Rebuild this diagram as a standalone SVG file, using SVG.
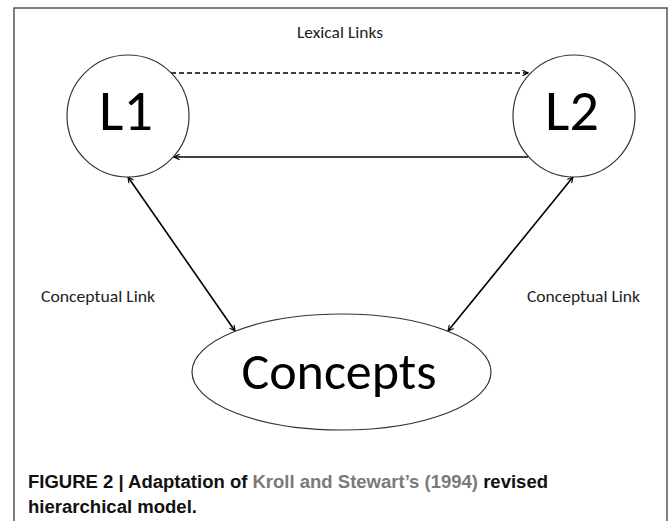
<svg xmlns="http://www.w3.org/2000/svg" width="669" height="521" viewBox="0 0 669 521">
<style>
.node{fill:#fff;stroke:#333;stroke-width:1.2}
.big{font-family:Carlito,Lato,"Open Sans",sans-serif;fill:#000}
.lbl{font-family:Carlito,Lato,"Open Sans",sans-serif;font-size:16px;fill:#222}
.conn{stroke:#000;stroke-width:1.6;fill:none}
.cap{font-family:"Liberation Sans Narrow","Liberation Sans",Arial,sans-serif;font-weight:bold;font-size:18px;fill:#111}
</style>
<defs>
<marker id="ah" viewBox="0 0 10 10" refX="9" refY="5" markerWidth="7" markerHeight="7" orient="auto-start-reverse" markerUnits="userSpaceOnUse">
<path d="M1,1 L9,5 L1,9" fill="none" stroke="#000" stroke-width="1.6"/>
</marker>
</defs>
<rect x="0" y="0" width="669" height="521" fill="#fff"/>
<path d="M14,530 V8 H667 V530" fill="none" stroke="#555" stroke-width="1.5"/>
<g id="connectors">
<line class="conn" x1="171" y1="73" x2="528" y2="73" stroke-dasharray="5,3" marker-end="url(#ah)"/>
<line class="conn" x1="528" y1="157" x2="174" y2="157" marker-end="url(#ah)"/>
<line class="conn" x1="128" y1="177" x2="235" y2="331" marker-start="url(#ah)" marker-end="url(#ah)"/>
<line class="conn" x1="573" y1="177" x2="448" y2="331" marker-start="url(#ah)" marker-end="url(#ah)"/>
</g>
<text class="lbl" x="297" y="38" textLength="86" lengthAdjust="spacingAndGlyphs">Lexical Links</text>
<text class="lbl" x="41" y="302" textLength="114" lengthAdjust="spacingAndGlyphs">Conceptual Link</text>
<text class="lbl" x="527" y="302" textLength="113" lengthAdjust="spacingAndGlyphs">Conceptual Link</text>
<g id="L1">
<circle class="node" cx="128" cy="116" r="61"/>
<text class="big" x="126" y="130" font-size="58" text-anchor="middle">L1</text>
</g>
<g id="L2">
<circle class="node" cx="574" cy="116" r="61"/>
<text class="big" x="572" y="130" font-size="58" text-anchor="middle">L2</text>
</g>
<g id="Concepts">
<ellipse class="node" cx="341.5" cy="372" rx="149.5" ry="58"/>
<text class="big" x="339" y="389" font-size="52" text-anchor="middle">Concepts</text>
</g>
<text class="cap" x="28" y="488" textLength="520" lengthAdjust="spacingAndGlyphs">FIGURE 2 | Adaptation of <tspan fill="#7a7a7a">Kroll and Stewart’s (1994)</tspan> revised</text>
<text class="cap" x="28" y="513" textLength="169" lengthAdjust="spacingAndGlyphs">hierarchical model.</text>
</svg>
